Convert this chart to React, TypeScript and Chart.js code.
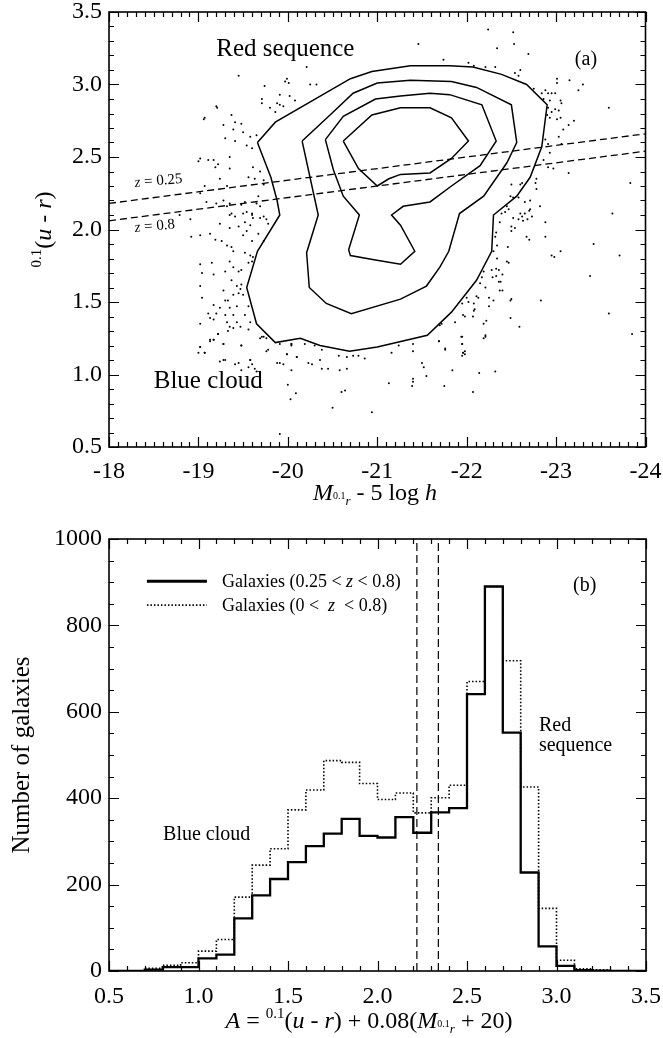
import React, { useEffect, useRef } from 'react';
import { Chart, registerables } from 'chart.js';

Chart.register(...registerables);

const SERIF = '"Liberation Serif", "Times New Roman", Times, serif';

// ---------------- Panel (a): colour-magnitude diagram ----------------
const magTicks = [-18, -19, -20, -21, -22, -23, -24];
const colorTicks = [0.5, 1.0, 1.5, 2.0, 2.5, 3.0, 3.5];

// individual galaxies outside the contours: [M, 0.1(u-r)]
const scatterPoints: [number, number][] = [
  [-19.45, 3.06], [-19.99, 3.04], [-19.97, 3.02], [-20.01, 3.01], [-19.74, 2.99], [-19.91, 2.93], [-19.71, 2.9], [-20.02, 2.92],
  [-20.08, 2.89], [-19.88, 2.87], [-19.91, 2.86], [-19.95, 2.85], [-19.71, 2.87], [-19.8, 2.84], [-19.86, 2.81], [-19.2, 2.85],
  [-19.37, 2.79], [-19.41, 2.74], [-19.48, 2.73], [-19.28, 2.72], [-19.39, 2.69], [-19.5, 2.67], [-19.3, 2.63], [-19.58, 2.64],
  [-19.65, 2.65], [-19.07, 2.77], [-19.41, 2.61], [-19.54, 2.58], [-19.6, 2.56], [-19.35, 2.5], [-19.02, 2.49], [-19.11, 2.48],
  [-19.17, 2.48], [-19.19, 2.43], [-19.35, 2.42], [-19.61, 2.43], [-19.69, 2.4], [-19.56, 2.36], [-19.63, 2.35], [-19.73, 2.34],
  [-19.24, 2.35], [-19.32, 2.3], [-19.73, 2.31], [-19.07, 2.3], [-19.02, 2.25], [-19.28, 2.2], [-19.35, 2.18], [-19.52, 2.19],
  [-19.67, 2.23], [-19.69, 2.16], [-19.54, 2.12], [-19.6, 2.11], [-19.37, 2.11], [-19.61, 2.08], [-19.73, 2.09], [-20.21, 3.12],
  [-20.25, 3.0], [-20.32, 3.0],
  [-19.09, 2.19], [-19.2, 2.18], [-19.32, 2.16], [-19.48, 2.17], [-19.65, 2.18], [-19.35, 2.1], [-19.41, 2.09], [-19.5, 2.11],
  [-19.6, 2.1], [-19.69, 2.08], [-19.76, 2.07], [-19.78, 2.04], [-19.52, 2.05], [-19.58, 2.03], [-19.24, 2.04], [-19.45, 2.02],
  [-19.35, 2.01], [-19.54, 1.99], [-19.67, 1.97], [-19.13, 1.97], [-19.02, 1.96], [-18.92, 1.95], [-19.5, 1.96], [-19.19, 1.93],
  [-19.26, 1.92], [-19.32, 1.89], [-19.37, 1.88], [-19.6, 1.92], [-19.73, 1.92], [-19.39, 1.85], [-19.52, 1.84], [-19.58, 1.82],
  [-19.61, 1.81], [-19.35, 1.78], [-19.56, 1.77], [-19.6, 1.78], [-19.02, 1.76], [-19.15, 1.77], [-19.39, 1.74], [-19.45, 1.71],
  [-19.48, 1.72], [-19.04, 1.7], [-19.17, 1.69], [-19.3, 1.71], [-19.37, 1.65], [-19.43, 1.61], [-19.48, 1.62], [-19.02, 1.61],
  [-19.28, 1.58], [-19.47, 1.59], [-19.39, 1.55], [-19.45, 1.56], [-19.5, 1.55], [-19.04, 1.53], [-19.3, 1.51], [-19.33, 1.51],
  [-19.17, 1.48], [-19.24, 1.46], [-19.35, 1.46], [-19.43, 1.47], [-19.56, 1.47], [-19.11, 1.42], [-19.2, 1.42], [-19.3, 1.41],
  [-19.39, 1.41], [-19.52, 1.41], [-19.13, 1.39], [-19.17, 1.38], [-19.32, 1.36], [-19.43, 1.36], [-19.58, 1.36], [-19.02, 1.35],
  [-19.35, 1.33], [-19.39, 1.32], [-19.47, 1.33], [-19.22, 1.28], [-19.56, 1.31], [-19.13, 1.24], [-19.17, 1.24], [-19.02, 1.19],
  [-19.28, 1.21], [-19.48, 1.2], [-19.69, 1.25], [-19.73, 1.26], [-19.78, 1.17], [-19.07, 1.15], [-19.58, 1.1], [-19.3, 1.1],
  [-19.99, 1.14], [-20.1, 1.12], [-19.91, 1.21], [-20.04, 1.21],
  [-21.74, 3.17], [-22.02, 3.15], [-22.08, 3.13], [-22.21, 3.12], [-22.32, 3.12], [-22.69, 3.21], [-22.54, 3.08], [-22.58, 3.06],
  [-22.6, 3.1], [-23.01, 3.04], [-23.01, 3.01], [-22.75, 2.97], [-22.84, 2.94], [-22.88, 2.96], [-22.91, 2.94], [-22.95, 2.94],
  [-22.99, 2.94], [-22.86, 2.9], [-22.93, 2.89], [-23.05, 2.89], [-23.06, 2.87], [-22.91, 2.84], [-22.95, 2.81], [-22.99, 2.83],
  [-23.03, 2.82], [-22.9, 2.79], [-22.93, 2.77], [-23.01, 2.76], [-23.05, 2.77], [-23.14, 2.72], [-23.08, 2.69], [-23.03, 2.64],
  [-22.88, 2.62], [-22.91, 2.59], [-22.93, 2.53], [-23.06, 2.59], [-22.86, 2.48], [-22.91, 2.43], [-22.97, 2.42], [-23.14, 2.39],
  [-22.78, 2.35], [-22.77, 2.32], [-22.78, 2.28], [-22.5, 2.31], [-22.6, 2.31], [-22.62, 2.32], [-22.49, 2.23], [-22.52, 2.22],
  [-22.58, 2.22], [-22.65, 2.19], [-22.71, 2.2], [-22.45, 2.16], [-22.39, 2.11], [-22.47, 2.14], [-22.6, 2.11], [-22.71, 2.14],
  [-22.82, 2.16], [-22.73, 2.09],
  [-22.43, 2.12], [-22.52, 2.08], [-22.58, 2.07], [-22.62, 2.09], [-22.65, 2.11], [-22.7, 2.13], [-22.63, 2.06], [-22.68, 2.07],
  [-22.88, 2.05], [-22.37, 2.05], [-22.5, 2.02], [-22.54, 2.01], [-22.5, 1.99], [-22.33, 1.98], [-22.32, 1.95], [-22.67, 1.95],
  [-22.7, 1.93], [-22.88, 1.95], [-22.34, 1.89], [-22.46, 1.88], [-22.95, 1.82], [-22.98, 1.81], [-22.3, 1.85], [-22.34, 1.8],
  [-22.45, 1.78], [-22.47, 1.77], [-22.19, 1.71], [-22.28, 1.72], [-22.33, 1.73], [-22.36, 1.72], [-22.4, 1.69], [-22.17, 1.67],
  [-22.29, 1.67], [-22.33, 1.68], [-22.36, 1.64], [-22.38, 1.64], [-22.15, 1.63], [-22.21, 1.6], [-22.37, 1.58], [-22.4, 1.58],
  [-22.11, 1.54], [-22.13, 1.53], [-22.25, 1.53], [-22.3, 1.51], [-22.5, 1.52], [-22.49, 1.51], [-22.83, 1.51], [-22.0, 1.53],
  [-21.95, 1.49], [-22.02, 1.5], [-22.08, 1.49], [-22.25, 1.47], [-22.08, 1.44], [-22.09, 1.45], [-21.96, 1.41], [-21.98, 1.4],
  [-22.07, 1.4], [-22.22, 1.37], [-22.49, 1.39], [-22.19, 1.35], [-21.87, 1.36], [-21.72, 1.35], [-21.7, 1.34], [-22.59, 1.33],
  [-22.21, 1.26], [-22.19, 1.25], [-21.95, 1.26], [-21.69, 1.23], [-21.95, 1.21], [-21.76, 1.18], [-21.96, 1.15], [-21.98, 1.14],
  [-21.95, 1.13],
  [-19.02, 1.19], [-19.0, 1.15], [-19.07, 1.15], [-19.13, 1.23], [-19.17, 1.24], [-19.22, 1.28], [-19.28, 1.21], [-19.33, 1.3],
  [-19.48, 1.2], [-19.24, 1.09], [-19.28, 1.1], [-19.41, 1.07], [-19.45, 1.08], [-19.48, 1.03], [-19.56, 1.05], [-19.58, 1.1],
  [-19.6, 1.07], [-19.63, 1.04], [-19.65, 1.02], [-19.71, 1.26], [-19.76, 1.25], [-19.76, 1.16], [-19.88, 1.08], [-19.91, 1.08],
  [-19.95, 1.07], [-19.99, 1.14], [-20.04, 1.21], [-20.04, 1.2], [-20.04, 1.03], [-20.1, 1.12], [-20.0, 0.93], [-20.09, 0.87],
  [-20.03, 0.83], [-20.19, 1.21], [-20.23, 1.08], [-20.27, 1.07], [-20.3, 1.2], [-20.36, 1.1], [-20.38, 1.17], [-20.38, 1.04],
  [-20.45, 1.04], [-20.5, 0.77], [-20.57, 1.13], [-20.58, 1.03], [-20.6, 0.88], [-20.64, 0.89], [-20.66, 1.04], [-20.66, 1.12],
  [-20.73, 1.13], [-20.79, 1.13], [-20.86, 1.11], [-20.94, 0.74], [-21.13, 0.94], [-21.16, 1.15], [-21.24, 1.2], [-21.4, 0.97],
  [-21.4, 0.95], [-21.39, 0.92], [-21.4, 1.16], [-21.4, 1.21], [-21.5, 1.08], [-21.52, 1.05], [-21.55, 0.99], [-21.69, 1.23],
  [-21.75, 0.92], [-21.76, 1.17], [-21.84, 1.03], [-21.94, 1.26], [-21.95, 1.21], [-21.96, 1.15], [-21.98, 1.16], [-22.07, 0.88],
  [-22.14, 1.01], [-22.21, 1.27], [-22.32, 1.02], [-19.91, 0.59],
  [-23.3, 3.0], [-23.59, 2.84], [-23.83, 2.32], [-23.63, 2.11], [-23.42, 1.9], [-23.71, 1.82], [-23.38, 1.68], [-23.59, 1.42],
  [-23.85, 1.28], [-22.24, 3.38], [-22.52, 3.36], [-22.53, 3.28], [-22.34, 3.25], [-21.46, 3.28], [-23.15, 3.03], [-23.25, 2.96],
  [-23.2, 2.75], [-19.06, 2.76], [-19.21, 2.84], [-19.0, 2.47], [-18.79, 2.1], [-18.91, 2.07], [-19.22, 2.45], [-23.05, 1.85],
];

// density contours (outer to inner)
const contour1: [number, number][] = [
  [-19.66, 2.6], [-19.86, 2.74], [-20.7, 3.04], [-20.94, 3.09], [-21.37, 3.13], [-21.81, 3.13], [-22.07, 3.12], [-22.39, 3.07],
  [-22.67, 3.0], [-22.9, 2.86], [-22.84, 2.57], [-22.71, 2.36], [-22.56, 2.23], [-22.3, 2.1], [-22.28, 1.85], [-22.11, 1.65],
  [-21.83, 1.43], [-21.56, 1.27], [-21.0, 1.19], [-20.69, 1.16], [-20.36, 1.2], [-20.14, 1.25], [-19.86, 1.22], [-19.65, 1.35],
  [-19.54, 1.6], [-19.66, 1.85], [-19.91, 2.1], [-19.88, 2.2], [-19.81, 2.36], [-19.66, 2.6],
];
const contour2: [number, number][] = [
  [-20.16, 2.61], [-20.49, 2.8], [-20.73, 2.94], [-21.0, 3.01], [-21.37, 3.03], [-21.83, 3.02], [-22.11, 2.98], [-22.5, 2.86],
  [-22.56, 2.6], [-22.45, 2.46], [-22.19, 2.23], [-21.92, 2.11], [-21.8, 1.85], [-21.7, 1.74], [-21.55, 1.61], [-21.26, 1.52],
  [-20.71, 1.42], [-20.43, 1.49], [-20.24, 1.6], [-20.21, 1.84], [-20.34, 2.1], [-20.16, 2.61],
];
const contour3: [number, number][] = [
  [-20.42, 2.62], [-20.62, 2.78], [-20.98, 2.9], [-21.26, 2.92], [-21.59, 2.94], [-21.81, 2.93], [-22.17, 2.86], [-22.33, 2.61],
  [-22.15, 2.44], [-21.83, 2.3], [-21.59, 2.19], [-21.29, 2.16], [-21.16, 2.1], [-21.26, 2.03], [-21.42, 1.85], [-21.26, 1.76],
  [-20.98, 1.79], [-20.7, 1.82], [-20.68, 1.86], [-20.8, 2.1], [-20.62, 2.23], [-20.51, 2.41], [-20.42, 2.62],
];
const contour4: [number, number][] = [
  [-20.62, 2.61], [-20.94, 2.79], [-21.26, 2.84], [-21.59, 2.84], [-21.83, 2.77], [-22.02, 2.61], [-21.83, 2.49], [-21.59, 2.39],
  [-21.26, 2.38], [-21.13, 2.35], [-21.0, 2.3], [-20.79, 2.42], [-20.62, 2.61],
];
// constant-A separation lines for z = 0.25 and z = 0.8
const lineZ025: [number, number][] = [[-18, 2.18], [-24, 2.66]];
const lineZ08: [number, number][] = [[-18, 2.06], [-24, 2.54]];

// ---------------- Panel (b): histogram of A ----------------
const binEdges = [
  0.5, 0.6, 0.7, 0.8, 0.9, 1.0, 1.1, 1.2, 1.3, 1.4, 1.5, 1.6, 1.7, 1.8, 1.9, 2.0,
  2.1, 2.2, 2.3, 2.4, 2.5, 2.6, 2.7, 2.8, 2.9, 3.0, 3.1, 3.2, 3.3, 3.4, 3.5,
];
const countsMidZ = [
  0, 0, 3, 9, 9, 29, 38, 122, 175, 213, 252, 289, 318, 352, 313, 309,
  356, 320, 367, 377, 641, 890, 552, 228, 57, 12, 2, 1, 0, 0,
];
const countsAllZ = [
  0, 0, 6, 13, 19, 46, 73, 171, 245, 283, 373, 419, 487, 483, 434, 397,
  412, 366, 401, 430, 670, 890, 718, 426, 145, 25, 5, 3, 0, 0,
];
const cutValues = [2.22, 2.34];
const aTicks = [0.5, 1.0, 1.5, 2.0, 2.5, 3.0, 3.5];
const countTicks = [0, 200, 400, 600, 800, 1000];

// ---------------- helpers ----------------
const fnt = (size: number, italic = false) => `${italic ? 'italic ' : ''}${size}px ${SERIF}`;
type Seg = { t: string; size: number; it?: boolean; dy?: number };

function drawRich(ctx: CanvasRenderingContext2D, segs: Seg[], x: number, y: number, align: 'left' | 'center' = 'left') {
  const widths = segs.map((s) => {
    ctx.font = fnt(s.size, s.it);
    return ctx.measureText(s.t).width;
  });
  const total = widths.reduce((a, b) => a + b, 0);
  let cx = align === 'center' ? x - total / 2 : x;
  ctx.textAlign = 'left';
  ctx.textBaseline = 'alphabetic';
  segs.forEach((s, i) => {
    ctx.font = fnt(s.size, s.it);
    ctx.fillText(s.t, cx, y + (s.dy ?? 0));
    cx += widths[i];
  });
}

function range(from: number, to: number, step: number) {
  const out: number[] = [];
  const n = Math.round((to - from) / step);
  for (let i = 0; i <= n; i++) out.push(+(from + i * step).toFixed(4));
  return out;
}

function makeFramePlugin(xMajor: number[], xMinor: number[], yMajor: number[], yMinor: number[]) {
  return {
    id: 'frameTicks',
    afterDatasetsDraw(chart: any) {
      const { ctx, chartArea: a, scales } = chart;
      const xs = scales.x;
      const ys = scales.y;
      ctx.save();
      ctx.strokeStyle = '#000';
      ctx.lineWidth = 1.2;
      ctx.beginPath();
      const xt = (v: number, len: number) => {
        const p = Math.round(xs.getPixelForValue(v)) + 0.5;
        ctx.moveTo(p, a.bottom); ctx.lineTo(p, a.bottom - len);
        ctx.moveTo(p, a.top); ctx.lineTo(p, a.top + len);
      };
      const yt = (v: number, len: number) => {
        const p = Math.round(ys.getPixelForValue(v)) + 0.5;
        ctx.moveTo(a.left, p); ctx.lineTo(a.left + len, p);
        ctx.moveTo(a.right, p); ctx.lineTo(a.right - len, p);
      };
      xMajor.forEach((v) => xt(v, 10));
      xMinor.forEach((v) => xt(v, 5));
      yMajor.forEach((v) => yt(v, 10));
      yMinor.forEach((v) => yt(v, 5));
      ctx.stroke();
      ctx.lineWidth = 1.6;
      ctx.strokeRect(a.left, a.top, a.right - a.left, a.bottom - a.top);
      ctx.restore();
    },
  };
}

const tickFont = { family: SERIF, size: 24, lineHeight: 1 };

const fitX = (h: number) => (s: any) => {
  s.height = h;
  s.paddingLeft = 0;
  s.paddingRight = 0;
};
const fitY = (w: number) => (s: any) => {
  s.width = w;
  s.paddingTop = 0;
  s.paddingBottom = 0;
};

// ---------------- component ----------------
export default function App() {
  const topRef = useRef<HTMLCanvasElement | null>(null);
  const botRef = useRef<HTMLCanvasElement | null>(null);

  useEffect(() => {
    const toXY = (arr: [number, number][]) => arr.map(([x, y]) => ({ x, y }));
    const lineDs = (arr: [number, number][], dash: number[], width: number) => ({
      data: toXY(arr),
      showLine: true,
      borderColor: '#000',
      borderWidth: width,
      borderDash: dash,
      pointRadius: 0,
      tension: 0,
      fill: false,
    });

    // ------- top chart -------
    const topTexts = {
      id: 'topTexts',
      afterDraw(chart: any) {
        const { ctx, scales, chartArea: a } = chart;
        const X = (v: number) => scales.x.getPixelForValue(v);
        const Y = (v: number) => scales.y.getPixelForValue(v);
        ctx.save();
        ctx.fillStyle = '#000';
        drawRich(ctx, [{ t: 'Red sequence', size: 25 }], X(-19.2), Y(3.2));
        drawRich(ctx, [{ t: 'Blue cloud', size: 25 }], X(-18.5), Y(0.907));
        drawRich(ctx, [{ t: '(a)', size: 20 }], X(-23.21), Y(3.134));
        // z labels, slightly tilted along the dashed lines
        ctx.save();
        ctx.translate(X(-18.29), Y(2.293));
        ctx.rotate((-5 * Math.PI) / 180);
        drawRich(ctx, [{ t: 'z', size: 15, it: true }, { t: ' = 0.25', size: 15 }], 0, 0);
        ctx.restore();
        ctx.save();
        ctx.translate(X(-18.29), Y(1.983));
        ctx.rotate((-5 * Math.PI) / 180);
        drawRich(ctx, [{ t: 'z', size: 15, it: true }, { t: ' = 0.8', size: 15 }], 0, 0);
        ctx.restore();
        // x title
        drawRich(
          ctx,
          [
            { t: 'M', size: 24, it: true },
            { t: '0.1', size: 10, dy: -1 },
            { t: 'r', size: 13, it: true, dy: 5 },
            { t: ' - 5 log ', size: 24 },
            { t: 'h', size: 24, it: true },
          ],
          375,
          500,
          'center'
        );
        // y title (rotated)
        ctx.save();
        ctx.translate(51, (a.top + a.bottom) / 2);
        ctx.rotate(-Math.PI / 2);
        drawRich(
          ctx,
          [
            { t: '0.1', size: 15, dy: -10 },
            { t: '(', size: 24 },
            { t: 'u', size: 24, it: true },
            { t: ' - ', size: 24 },
            { t: 'r', size: 24, it: true },
            { t: ')', size: 24 },
          ],
          0,
          0,
          'center'
        );
        ctx.restore();
        ctx.restore();
      },
    };

    const topChart = new Chart(topRef.current as HTMLCanvasElement, {
      type: 'scatter',
      data: {
        datasets: [
          {
            data: toXY(scatterPoints),
            pointRadius: 1,
            pointBorderWidth: 0,
            pointBackgroundColor: '#000',
            showLine: false,
          } as any,
          lineDs(contour1, [], 1.5),
          lineDs(contour2, [], 1.5),
          lineDs(contour3, [], 1.5),
          lineDs(contour4, [], 1.5),
          lineDs(lineZ025, [7, 4], 1.3),
          lineDs(lineZ08, [7, 4], 1.3),
        ],
      },
      options: {
        animation: false,
        responsive: false,
        devicePixelRatio: 1,
        layout: { padding: { left: 0, right: 17.5, top: 12, bottom: 0 } },
        plugins: { legend: { display: false }, tooltip: { enabled: false } },
        scales: {
          x: {
            type: 'linear',
            min: -24,
            max: -18,
            reverse: true,
            grid: { display: false, drawTicks: false },
            border: { display: false },
            ticks: {
              stepSize: 1,
              autoSkip: false,
              maxRotation: 0,
              padding: 13,
              color: '#000',
              font: tickFont,
              callback: (v: any) => String(v),
            },
            afterFit: fitX(78),
          },
          y: {
            type: 'linear',
            min: 0.5,
            max: 3.5,
            grid: { display: false, drawTicks: false },
            border: { display: false },
            ticks: {
              stepSize: 0.5,
              autoSkip: false,
              padding: 7,
              color: '#000',
              font: tickFont,
              callback: (v: any) => Number(v).toFixed(1),
            },
            afterFit: fitY(109),
          },
        },
      } as any,
      plugins: [
        makeFramePlugin(magTicks, range(-23.9, -18.1, 0.1).filter((v) => Math.abs(v - Math.round(v)) > 1e-6), colorTicks, range(0.6, 3.4, 0.1).filter((v) => Math.abs(v * 2 - Math.round(v * 2)) > 1e-6)),
        topTexts,
      ],
    });

    // ------- bottom chart -------
    const stepData = (counts: number[]) =>
      binEdges.map((e, i) => ({ x: e, y: counts[Math.min(i, counts.length - 1)] }));

    const botTexts = {
      id: 'botTexts',
      afterDraw(chart: any) {
        const { ctx, scales, chartArea: a } = chart;
        const X = (v: number) => scales.x.getPixelForValue(v);
        const Y = (v: number) => scales.y.getPixelForValue(v);
        ctx.save();
        ctx.fillStyle = '#000';
        ctx.strokeStyle = '#000';
        // legend
        ctx.lineWidth = 3;
        ctx.beginPath();
        ctx.moveTo(X(0.712), Y(902));
        ctx.lineTo(X(1.047), Y(902));
        ctx.stroke();
        ctx.lineWidth = 1.6;
        ctx.setLineDash([1.5, 2]);
        ctx.beginPath();
        ctx.moveTo(X(0.712), Y(847));
        ctx.lineTo(X(1.047), Y(847));
        ctx.stroke();
        ctx.setLineDash([]);
        drawRich(ctx, [{ t: 'Galaxies (0.25 < ', size: 18 }, { t: 'z', size: 18, it: true }, { t: ' < 0.8)', size: 18 }], X(1.131), Y(888));
        drawRich(ctx, [{ t: 'Galaxies (0 <  ', size: 18 }, { t: 'z', size: 18, it: true }, { t: '  < 0.8)', size: 18 }], X(1.131), Y(833));
        drawRich(ctx, [{ t: '(b)', size: 20 }], X(3.092), Y(880));
        drawRich(ctx, [{ t: 'Red', size: 20 }], X(2.902), Y(556));
        drawRich(ctx, [{ t: 'sequence', size: 20 }], X(2.902), Y(510));
        drawRich(ctx, [{ t: 'Blue cloud', size: 20 }], X(0.802), Y(303));
        // x title
        drawRich(
          ctx,
          [
            { t: 'A', size: 24, it: true },
            { t: ' = ', size: 24 },
            { t: '0.1', size: 15, dy: -10 },
            { t: '(', size: 24 },
            { t: 'u', size: 24, it: true },
            { t: ' - ', size: 24 },
            { t: 'r', size: 24, it: true },
            { t: ') + 0.08(', size: 24 },
            { t: 'M', size: 24, it: true },
            { t: '0.1', size: 10, dy: -1 },
            { t: 'r', size: 13, it: true, dy: 5 },
            { t: ' + 20)', size: 24 },
          ],
          369,
          503,
          'center'
        );
        // y title
        ctx.save();
        ctx.translate(29, (a.top + a.bottom) / 2);
        ctx.rotate(-Math.PI / 2);
        drawRich(ctx, [{ t: 'Number of galaxies', size: 25 }], 0, 0, 'center');
        ctx.restore();
        ctx.restore();
      },
    };

    const botChart = new Chart(botRef.current as HTMLCanvasElement, {
      type: 'scatter',
      data: {
        datasets: [
          {
            data: stepData(countsAllZ),
            showLine: true,
            stepped: 'before',
            borderColor: '#000',
            borderWidth: 1.6,
            borderDash: [1.5, 2],
            pointRadius: 0,
            fill: false,
          } as any,
          {
            data: stepData(countsMidZ),
            showLine: true,
            stepped: 'before',
            borderColor: '#000',
            borderWidth: 2.3,
            pointRadius: 0,
            fill: false,
          } as any,
          ...cutValues.map((c) => ({
            data: [
              { x: c, y: 0 },
              { x: c, y: 1000 },
            ],
            showLine: true,
            borderColor: '#000',
            borderWidth: 1.2,
            borderDash: [8, 4],
            pointRadius: 0,
            fill: false,
          })),
        ],
      },
      options: {
        animation: false,
        responsive: false,
        devicePixelRatio: 1,
        layout: { padding: { left: 0, right: 17, top: 14, bottom: 0 } },
        plugins: { legend: { display: false }, tooltip: { enabled: false } },
        scales: {
          x: {
            type: 'linear',
            min: 0.5,
            max: 3.5,
            grid: { display: false, drawTicks: false },
            border: { display: false },
            ticks: {
              stepSize: 0.5,
              autoSkip: false,
              maxRotation: 0,
              padding: 14,
              color: '#000',
              font: tickFont,
              callback: (v: any) => Number(v).toFixed(1),
            },
            afterFit: fitX(67),
          },
          y: {
            type: 'linear',
            min: 0,
            max: 1000,
            grid: { display: false, drawTicks: false },
            border: { display: false },
            ticks: {
              stepSize: 200,
              autoSkip: false,
              padding: 7,
              color: '#000',
              font: tickFont,
              callback: (v: any) => String(v),
            },
            afterFit: fitY(109),
          },
        },
      } as any,
      plugins: [
        makeFramePlugin(aTicks, range(0.6, 3.4, 0.1).filter((v) => Math.abs(v * 2 - Math.round(v * 2)) > 1e-6), countTicks, range(50, 950, 50).filter((v) => v % 200 !== 0)),
        botTexts,
      ],
    });

    return () => {
      topChart.destroy();
      botChart.destroy();
    };
  }, []);

  return (
    <div style={{ position: 'absolute', left: 0, top: 0, width: 663, height: 1038, background: '#fff' }}>
      <canvas
        ref={topRef}
        width={663}
        height={525}
        style={{ position: 'absolute', left: 0, top: 0, width: 663, height: 525 }}
      />
      <canvas
        ref={botRef}
        width={663}
        height={513}
        style={{ position: 'absolute', left: 0, top: 525, width: 663, height: 513 }}
      />
    </div>
  );
}
